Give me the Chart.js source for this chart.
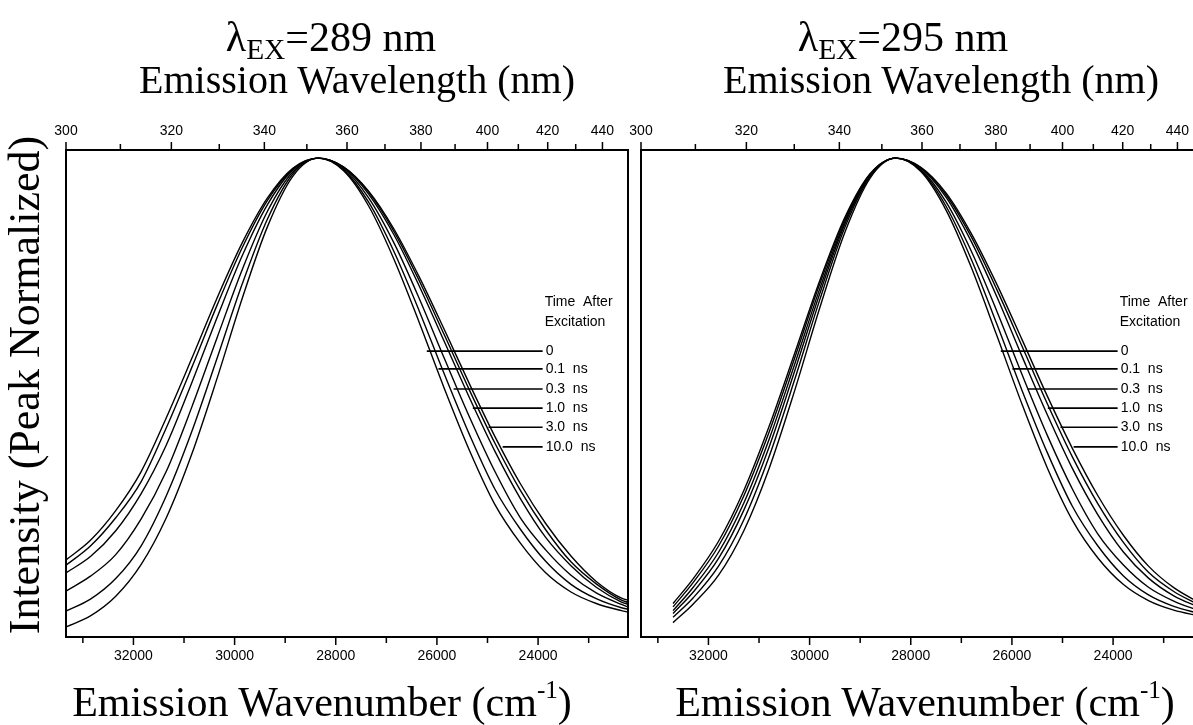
<!DOCTYPE html>
<html>
<head>
<meta charset="utf-8">
<script src="https://cdn.jsdelivr.net/npm/chart.js@4/dist/chart.umd.min.js"></script>
<style>
  html, body { margin: 0; padding: 0; background: #fff; width: 1193px; height: 725px; overflow: hidden; }
  .panel { position: absolute; top: 0; height: 725px; }
  .ttl { position: absolute; font-family: "Liberation Serif", "Times New Roman", serif; color: #000; white-space: nowrap; text-align: center; line-height: 1; z-index: 2; }
  .ttl sub { font-size: 0.7em; vertical-align: -0.28em; }
  .ttl sup { font-size: 0.6em; vertical-align: 0.7em; }
</style>
</head>
<body>
<div class="panel" style="left:0;width:640px;"><canvas id="ex289" width="640" height="725"></canvas></div>
<div class="panel" style="left:600px;width:620px;"><canvas id="ex295" width="620" height="725"></canvas></div>

<div class="ttl" style="left:131px;top:16px;width:400px;font-size:42px;">&lambda;<sub>EX</sub>=289 nm</div>
<div class="ttl" style="left:57px;top:60px;width:600px;font-size:40px;">Emission Wavelength (nm)</div>
<div class="ttl" style="left:703px;top:16px;width:400px;font-size:42px;">&lambda;<sub>EX</sub>=295 nm</div>
<div class="ttl" style="left:641px;top:60px;width:600px;font-size:40px;">Emission Wavelength (nm)</div>
<div class="ttl" style="left:22px;top:677px;width:600px;font-size:42px;">Emission Wavenumber (cm<sup>-1</sup>)</div>
<div class="ttl" style="left:625px;top:677px;width:600px;font-size:42px;">Emission Wavenumber (cm<sup>-1</sup>)</div>
<div class="ttl" style="left:-273px;top:361px;width:600px;height:48px;font-size:44px;transform:rotate(-90deg);">Intensity (Peak Normalized)</div>

<script>
// axis ranges: 300 nm .. 450 nm expressed in wavenumber (cm-1)
const wnMax = 1e7 / 300;
const wnMin = 1e7 / 450;
const wnTicks = [33000, 32000, 31000, 30000, 29000, 28000, 27000, 26000, 25000, 24000, 23000];
const wlTicks = [300, 310, 320, 330, 340, 350, 360, 370, 380, 390, 400, 410, 420, 430, 440];

// excitation 289 nm, sampled wavenumbers (cm-1)
const wn289 = [33333, 32850, 32350, 31850, 31350, 30850, 30350, 29850, 29350, 28850, 28350,
  27850, 27350, 26850, 26350, 25850, 25350, 24850, 24350, 23850, 23350, 22850, 22350, 22222];
const ex289_0ns   = [0.161, 0.202, 0.264, 0.345, 0.458, 0.581, 0.707, 0.823, 0.917, 0.979, 1.000,
  0.974, 0.900, 0.789, 0.657, 0.518, 0.388, 0.276, 0.196, 0.134, 0.094, 0.070, 0.055, 0.052];
const ex289_01ns  = [0.150, 0.190, 0.249, 0.324, 0.437, 0.562, 0.692, 0.813, 0.912, 0.977, 1.000,
  0.976, 0.908, 0.805, 0.681, 0.548, 0.421, 0.308, 0.225, 0.158, 0.110, 0.080, 0.061, 0.058];
const ex289_03ns  = [0.134, 0.168, 0.222, 0.299, 0.401, 0.530, 0.666, 0.796, 0.903, 0.975, 1.000,
  0.979, 0.917, 0.823, 0.707, 0.581, 0.458, 0.345, 0.249, 0.182, 0.129, 0.092, 0.068, 0.063];
const ex289_1ns   = [0.096, 0.127, 0.172, 0.246, 0.346, 0.479, 0.624, 0.767, 0.889, 0.971, 1.000,
  0.981, 0.925, 0.840, 0.733, 0.616, 0.498, 0.387, 0.289, 0.208, 0.149, 0.104, 0.073, 0.068];
const ex289_3ns   = [0.054, 0.079, 0.122, 0.190, 0.295, 0.428, 0.581, 0.737, 0.873, 0.967, 1.000,
  0.982, 0.929, 0.847, 0.744, 0.630, 0.514, 0.404, 0.306, 0.224, 0.157, 0.111, 0.077, 0.072];
const ex289_10ns  = [0.021, 0.044, 0.085, 0.151, 0.249, 0.381, 0.539, 0.707, 0.857, 0.962, 1.000,
  0.982, 0.931, 0.852, 0.752, 0.641, 0.527, 0.418, 0.320, 0.237, 0.169, 0.116, 0.081, 0.077];

// excitation 295 nm
const wn295 = [32700, 32300, 31800, 31300, 30800, 30300, 29800, 29300, 28800, 28300,
  27800, 27300, 26800, 26300, 25800, 25300, 24800, 24300, 23800, 23300, 22800, 22300];
const ex295_0ns   = [0.070, 0.122, 0.200, 0.306, 0.440, 0.591, 0.744, 0.877, 0.968, 1.000,
  0.972, 0.891, 0.771, 0.630, 0.486, 0.353, 0.243, 0.165, 0.110, 0.076, 0.056, 0.044];
const ex295_01ns  = [0.063, 0.114, 0.190, 0.295, 0.428, 0.581, 0.737, 0.873, 0.967, 1.000,
  0.974, 0.899, 0.788, 0.654, 0.515, 0.385, 0.272, 0.190, 0.128, 0.088, 0.064, 0.049];
const ex295_03ns  = [0.055, 0.104, 0.177, 0.280, 0.413, 0.568, 0.727, 0.868, 0.965, 1.000,
  0.976, 0.908, 0.805, 0.681, 0.548, 0.421, 0.308, 0.215, 0.151, 0.104, 0.075, 0.055];
const ex295_1ns   = [0.049, 0.094, 0.164, 0.265, 0.397, 0.554, 0.717, 0.863, 0.964, 1.000,
  0.979, 0.918, 0.825, 0.711, 0.586, 0.464, 0.351, 0.255, 0.178, 0.123, 0.086, 0.062];
const ex295_3ns   = [0.041, 0.082, 0.148, 0.245, 0.377, 0.536, 0.704, 0.856, 0.962, 1.000,
  0.980, 0.923, 0.835, 0.726, 0.607, 0.487, 0.375, 0.278, 0.198, 0.135, 0.095, 0.067];
const ex295_10ns  = [0.030, 0.069, 0.129, 0.222, 0.352, 0.513, 0.687, 0.846, 0.959, 1.000,
  0.981, 0.927, 0.842, 0.737, 0.621, 0.503, 0.393, 0.295, 0.213, 0.148, 0.103, 0.072];

// labels "Time After Excitation" with leader lines
const timeLabels = ['0', '0.1  ns', '0.3  ns', '1.0  ns', '3.0  ns', '10.0  ns'];
const leaderY = [0.597, 0.560, 0.518, 0.478, 0.438, 0.397];
const leaderStart289 = [26200, 25970, 25670, 25290, 24980, 24700];
const leaderStart295 = [26220, 25990, 25690, 25290, 25040, 24780];
const leaderEnd = 23910;

const tickFont = { family: '"Liberation Sans", Arial, Helvetica, sans-serif', size: 14 };

const frame = {
  id: 'frame',
  afterDraw(chart, args, opts) {
    const { ctx, chartArea: a, scales } = chart;
    ctx.save();
    ctx.strokeStyle = '#000';
    ctx.lineWidth = 2;
    ctx.strokeRect(a.left, a.top, a.right - a.left, a.bottom - a.top);

    ctx.lineWidth = 1.5;
    ctx.beginPath();
    wnTicks.forEach(v => {
      const x = scales.x.getPixelForValue(v);
      const len = v % 2000 === 0 ? 8 : 6;
      ctx.moveTo(x, a.bottom);
      ctx.lineTo(x, a.bottom + len);
    });
    wlTicks.forEach(l => {
      const x = scales.top.getPixelForValue(1e7 / l);
      const len = l % 20 === 0 ? 8 : 6;
      ctx.moveTo(x, a.top);
      ctx.lineTo(x, a.top - len);
    });
    ctx.stroke();

    // leader lines + labels
    const y = scales.y;
    const xEnd = scales.x.getPixelForValue(leaderEnd);
    ctx.lineWidth = 1.6;
    ctx.fillStyle = '#000';
    ctx.font = '14px "Liberation Sans", Arial, sans-serif';
    ctx.textBaseline = 'middle';
    ctx.textAlign = 'left';
    ctx.beginPath();
    opts.starts.forEach((s, i) => {
      const py = y.getPixelForValue(leaderY[i]);
      ctx.moveTo(scales.x.getPixelForValue(s), py);
      ctx.lineTo(xEnd, py);
    });
    ctx.stroke();
    timeLabels.forEach((t, i) => {
      ctx.fillText(t, xEnd + 3, y.getPixelForValue(leaderY[i]));
    });
    ctx.fillText('Time  After', xEnd + 2, y.getPixelForValue(0.699));
    ctx.fillText('Excitation', xEnd + 2, y.getPixelForValue(0.657));
    ctx.restore();
  }
};

function makeChart(id, wn, series, starts, pad) {
  const datasets = series.map(vals => ({
    data: wn.map((x, i) => ({ x: x, y: vals[i] })),
    borderColor: '#000',
    borderWidth: 1.4,
    pointRadius: 0,
    fill: false,
    cubicInterpolationMode: 'monotone'
  }));
  return new Chart(document.getElementById(id), {
    type: 'line',
    data: { datasets: datasets },
    options: {
      responsive: false,
      animation: false,
      devicePixelRatio: 1,
      layout: { padding: pad },
      plugins: { legend: { display: false }, tooltip: { enabled: false }, frame: { starts: starts } },
      scales: {
        x: {
          type: 'linear', position: 'bottom', reverse: true, min: wnMin, max: wnMax,
          afterBuildTicks: s => { s.ticks = wnTicks.map(v => ({ value: v })); },
          afterFit: s => { s.height = 40; },
          ticks: { autoSkip: false, maxRotation: 0, padding: 11, color: '#000', font: tickFont,
            callback: v => (v % 2000 === 0 ? String(v) : '') },
          grid: { display: false, drawTicks: false },
          border: { display: false }
        },
        top: {
          type: 'linear', position: 'top', reverse: true, min: wnMin, max: wnMax,
          afterBuildTicks: s => { s.ticks = wlTicks.map(l => ({ value: 1e7 / l })); },
          afterFit: s => { s.height = 40; },
          ticks: { autoSkip: false, maxRotation: 0, padding: 10, color: '#000', font: tickFont,
            callback: v => { const l = Math.round(1e7 / v); return l % 20 === 0 ? String(l) : ''; } },
          grid: { display: false, drawTicks: false },
          border: { display: false }
        },
        y: { display: false, min: 0, max: 1.017 }
      }
    },
    plugins: [frame]
  });
}

makeChart('ex289', wn289,
  [ex289_0ns, ex289_01ns, ex289_03ns, ex289_1ns, ex289_3ns, ex289_10ns],
  leaderStart289, { left: 66, right: 12, top: 110, bottom: 48 });
makeChart('ex295', wn295,
  [ex295_0ns, ex295_01ns, ex295_03ns, ex295_1ns, ex295_3ns, ex295_10ns],
  leaderStart295, { left: 41, right: 17, top: 110, bottom: 48 });
</script>
</body>
</html>
